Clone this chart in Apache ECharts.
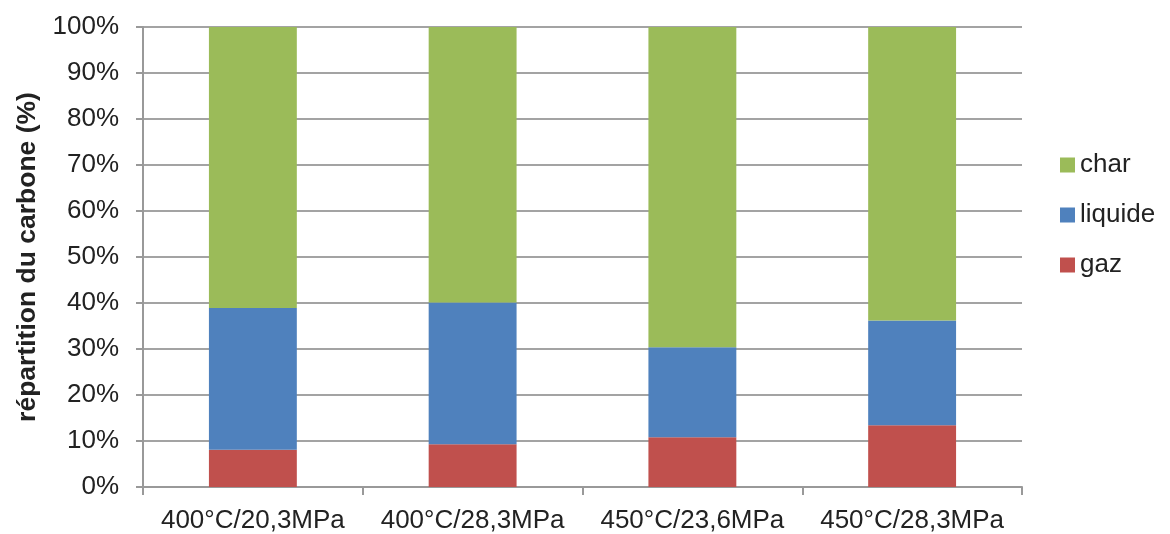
<!DOCTYPE html>
<html><head><meta charset="utf-8">
<script src="https://cdn.jsdelivr.net/npm/echarts@6/dist/echarts.min.js"></script>
<style>html,body{margin:0;padding:0;background:#fff}#c{width:1170px;height:534px}</style>
</head><body><div id="c"></div>
<script>
const categories = ['400°C/20,3MPa','400°C/28,3MPa','450°C/23,6MPa','450°C/28,3MPa'];
const gaz = [8.1, 9.3, 10.8, 13.4];
const liquide = [30.8, 30.8, 19.6, 22.8];
const char = [61.1, 59.9, 69.6, 63.8];
const yTicks = [0,10,20,30,40,50,60,70,80,90,100];

const font = '"Liberation Sans", Arial, sans-serif';
const chart = echarts.init(document.getElementById('c'), null, {renderer:'canvas'});
chart.setOption({
  animation:false,
  backgroundColor:'#fff',
  grid:{left:143,right:148,top:27,bottom:47,containLabel:false},
  legend:{
    orient:'vertical', left:1055, top:147, itemGap:24,
    itemWidth:15, itemHeight:15, icon:'rect',
    data:['char','liquide','gaz'],
    textStyle:{fontFamily:font,fontSize:26,color:'#222',padding:[0,0,0,0]}
  },
  xAxis:{
    type:'category', data:categories,
    axisLine:{lineStyle:{color:'#999',width:2}},
    axisTick:{show:true,interval:0,length:8,lineStyle:{color:'#999',width:2}},
    axisLabel:{interval:0,hideOverlap:false,fontFamily:font,fontSize:26,color:'#222',margin:21}
  },
  yAxis:{
    type:'value', min:0, max:100, interval:10,
    name:'répartition du carbone (%)', nameLocation:'middle', nameGap:98,
    nameTextStyle:{fontFamily:font,fontSize:26.5,fontWeight:'bold',color:'#222'},
    axisLine:{show:true,lineStyle:{color:'#999',width:2}},
    axisTick:{show:true,length:7,lineStyle:{color:'#999',width:2}},
    splitLine:{lineStyle:{color:'#a3a3a3',width:2}},
    axisLabel:{fontFamily:font,fontSize:26,color:'#222',margin:24,
      formatter:v=>yTicks.includes(v)?v+'%':''}
  },
  series:[
    {name:'gaz',type:'bar',stack:'t',data:gaz,barWidth:'40%',itemStyle:{color:'#C0504D'}},
    {name:'liquide',type:'bar',stack:'t',data:liquide,barWidth:'40%',itemStyle:{color:'#4F81BD'}},
    {name:'char',type:'bar',stack:'t',data:char,barWidth:'40%',itemStyle:{color:'#9BBB59'}}
  ]
});
</script></body></html>
